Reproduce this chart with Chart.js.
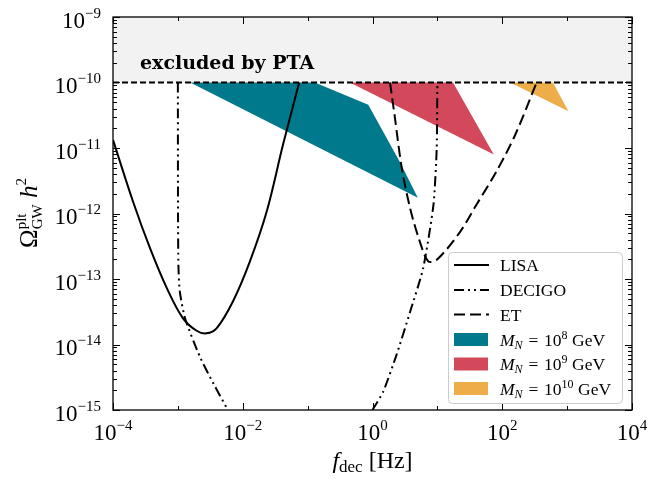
<!DOCTYPE html>
<html>
<head>
<meta charset="utf-8">
<title>GW spectrum vs. detector sensitivity</title>
<script src="https://cdn.jsdelivr.net/npm/chart.js@4.4.0/dist/chart.umd.min.js"></script>
<style>
  html, body { margin: 0; padding: 0; background: #fff; }
  #wrap { width: 668px; height: 479px; }
</style>
</head>
<body>
<div id="wrap"><canvas id="gwChart" width="668" height="479"></canvas></div>
<script>
// 数据：频率 f_dec [Hz] 与 Omega h^2
const lisaFreq = [1e-4, 2.04e-4, 3.72e-4, 6.76e-4, 1.2e-3, 1.95e-3, 2.75e-3, 3.98e-3, 7.08e-3, 1.29e-2, 2.34e-2, 4.17e-2, 7.41e-2];
const lisaOmega = [1.33e-11, 1.51e-12, 2.95e-13, 7.24e-14, 2.51e-14, 1.62e-14, 1.48e-14, 1.78e-14, 4.57e-14, 1.86e-13, 1.07e-12, 1.12e-11, 1e-10];

// DECIGO 两支，中间低于 1e-15 的部分用 null 断开
const decigoFreq = [1e-3, 1.005e-3, 1.02e-3, 1.07e-3, 1.29e-3, 2.19e-3, 3.55e-3, 5.89e-3, 0.1, 1.0, 1.46, 2.34, 3.8, 6.03, 8.7, 9.77, 10];
const decigoOmega = [1e-10, 1e-12, 1.58e-13, 6.46e-14, 2.51e-14, 6.46e-15, 2.51e-15, 1e-15, null, 1e-15, 1.9e-15, 6.9e-15, 3.16e-14, 1.45e-13, 1.35e-12, 1e-11, 1e-10];

const etFreq = [1.86, 2.19, 2.82, 3.8, 5.25, 7.24, 10, 22.4, 39.8, 81.3, 158, 339];
const etOmega = [1e-10, 3.16e-11, 5.0e-12, 1.2e-12, 3.98e-13, 1.86e-13, 2.0e-13, 5.25e-13, 1.35e-12, 4.37e-12, 1.58e-11, 1e-10];

// 三个 M_N 的信号区域（闭合多边形）
const m8Freq = [1.55e-3, 0.129, 0.86, 2.63, 5.0, 1.55e-3];
const m8Omega = [1e-10, 1e-10, 4.57e-11, 6.17e-12, 1.74e-12, 1e-10];
const m9Freq = [0.447, 17.4, 74.1, 0.447];
const m9Omega = [1e-10, 1e-10, 7.94e-12, 1e-10];
const m10Freq = [132, 603, 1047, 132];
const m10Omega = [1e-10, 1e-10, 3.63e-11, 1e-10];

// PTA 排除区
const ptaFreq = [1e-4, 1e4, 1e4, 1e-4];
const ptaOmega = [1e-10, 1e-10, 1e-9, 1e-9];
const ptaLineFreq = [1e-4, 1e4];
const ptaLineOmega = [1e-10, 1e-10];

// 坐标轴
const xMin = 1e-4, xMax = 1e4;
const yMin = 1e-15, yMax = 1e-9;
const xTickExps = [-4, -2, 0, 2, 4];
const xMinorExps = [-3, -1, 1, 3];
const yTickExps = [-15, -14, -13, -12, -11, -10, -9];

const curveLabels = ['LISA', 'DECIGO', 'ET'];
const massExps = ['8', '9', '10'];

const COLORS = { m8: '#00798c', m9: '#d1495b', m10: '#edae49', pta: '#f2f2f2' };
const DASH = { lisa: [], decigo: [10, 4, 2, 4, 2, 4], et: [11, 5], pta: [6, 3] };
const SERIF = '"Liberation Serif", "DejaVu Serif", serif';

function toPoints(xs, ys) {
    return xs.map((x, i) => ({ x: x, y: ys[i] }));
}

function fontOf(size, style) {
    return (style || '') + ' ' + size + 'px ' + SERIF;
}

// 画带上下标的文字
function drawRuns(ctx, runs, x, y, align) {
    const widths = runs.map(r => {
        ctx.font = fontOf(r.size, r.style);
        if (r.sup !== undefined) {
            return Math.max(ctx.measureText(r.sup).width, ctx.measureText(r.sub).width);
        }
        return ctx.measureText(r.t).width;
    });
    const total = widths.reduce((a, b) => a + b, 0);
    let cx = align === 'center' ? x - total / 2 : (align === 'right' ? x - total : x);
    ctx.textAlign = 'left';
    ctx.textBaseline = 'alphabetic';
    runs.forEach((r, i) => {
        ctx.font = fontOf(r.size, r.style);
        if (r.sup !== undefined) {
            ctx.fillText(r.sup, cx, y + r.supDy);
            ctx.fillText(r.sub, cx, y + r.subDy);
        } else {
            ctx.fillText(r.t, cx, y + (r.dy || 0));
        }
        cx += widths[i];
    });
}

function powRuns(e) {
    const s = e < 0 ? '\u2212' + (-e) : String(e);
    return [{ t: '10', size: 23 }, { t: s, size: 15, dy: -10 }];
}

// 边框、刻度、标签、图例
const decorPlugin = {
    id: 'decor',
    afterDraw(chart) {
        const ctx = chart.ctx;
        const area = chart.chartArea;
        const xs = chart.scales.x;
        const ys = chart.scales.y;
        ctx.save();
        ctx.fillStyle = '#000';
        ctx.strokeStyle = '#000';

        // 文字 excluded by PTA
        ctx.font = 'bold 19px "DejaVu Serif", serif';
        ctx.textAlign = 'left';
        ctx.textBaseline = 'alphabetic';
        ctx.fillText('excluded by PTA', 140, 69);

        // 刻度（朝内）
        ctx.lineWidth = 1;
        ctx.setLineDash([]);
        const tick = (x1, y1, x2, y2) => { ctx.beginPath(); ctx.moveTo(x1, y1); ctx.lineTo(x2, y2); ctx.stroke(); };
        xTickExps.forEach(e => {
            const px = Math.round(xs.getPixelForValue(Math.pow(10, e))) + 0.5;
            tick(px, area.bottom, px, area.bottom - 7);
            tick(px, area.top, px, area.top + 7);
        });
        xMinorExps.forEach(e => {
            const px = Math.round(xs.getPixelForValue(Math.pow(10, e))) + 0.5;
            tick(px, area.bottom, px, area.bottom - 4);
            tick(px, area.top, px, area.top + 4);
        });
        yTickExps.forEach(e => {
            const py = Math.round(ys.getPixelForValue(Math.pow(10, e))) + 0.5;
            tick(area.left, py, area.left + 7, py);
            tick(area.right, py, area.right - 7, py);
            if (e < -9) {
                for (let m = 2; m <= 9; m++) {
                    const pm = Math.round(ys.getPixelForValue(m * Math.pow(10, e))) + 0.5;
                    tick(area.left, pm, area.left + 4, pm);
                    tick(area.right, pm, area.right - 4, pm);
                }
            }
        });

        // 边框
        ctx.lineWidth = 1.3;
        ctx.strokeRect(area.left, area.top, area.right - area.left, area.bottom - area.top);

        // 刻度标签
        xTickExps.forEach(e => {
            drawRuns(ctx, powRuns(e), xs.getPixelForValue(Math.pow(10, e)), area.bottom + 30, 'center');
        });
        yTickExps.forEach(e => {
            drawRuns(ctx, powRuns(e), area.left - 12, ys.getPixelForValue(Math.pow(10, e)) + 10.5, 'right');
        });

        // 坐标轴标题
        drawRuns(ctx, [
            { t: 'f', size: 24, style: 'italic' },
            { t: 'dec', size: 17, dy: 4 },
            { t: ' [Hz]', size: 24 }
        ], (area.left + area.right) / 2, 468, 'center');

        ctx.save();
        ctx.translate(37, 213);
        ctx.rotate(-Math.PI / 2);
        drawRuns(ctx, [
            { t: '\u03A9', size: 25 },
            { sup: 'plt', sub: 'GW', size: 15, supDy: -11, subDy: 5 },
            { t: ' ', size: 25 },
            { t: 'h', size: 25, style: 'italic' },
            { t: '2', size: 15, dy: -11 }
        ], 0, 0, 'center');
        ctx.restore();

        // 图例
        drawLegend(ctx);
        ctx.restore();
    }
};

function drawLegend(ctx) {
    const bx = 448.5, by = 252.5, bw = 174, bh = 151, r = 4;
    ctx.save();
    ctx.fillStyle = 'rgba(255,255,255,0.8)';
    ctx.strokeStyle = '#cccccc';
    ctx.lineWidth = 1;
    ctx.beginPath();
    ctx.roundRect(bx, by, bw, bh, r);
    ctx.fill();
    ctx.stroke();

    const rowY = [265, 290, 314.5, 339.5, 364, 388.5];
    const dashes = [DASH.lisa, DASH.decigo, DASH.et];
    const textX = 500;

    curveLabels.forEach((lab, i) => {
        ctx.strokeStyle = '#000';
        ctx.lineWidth = 2;
        ctx.setLineDash(dashes[i]);
        ctx.beginPath();
        ctx.moveTo(454, rowY[i]);
        ctx.lineTo(489, rowY[i]);
        ctx.stroke();
        ctx.setLineDash([]);
        ctx.fillStyle = '#000';
        drawRuns(ctx, [{ t: lab, size: 17.5 }], textX, rowY[i] + 6, 'left');
    });

    const fills = [COLORS.m8, COLORS.m9, COLORS.m10];
    massExps.forEach((ex, i) => {
        const cy = rowY[i + 3];
        ctx.fillStyle = fills[i];
        ctx.fillRect(454, cy - 6.5, 34, 13);
        ctx.fillStyle = '#000';
        drawRuns(ctx, [
            { t: 'M', size: 17.5, style: 'italic' },
            { t: 'N', size: 12, style: 'italic', dy: 3 },
            { t: '\u2004=\u200410', size: 17.5 },
            { t: ex, size: 12, dy: -7 },
            { t: ' GeV', size: 17.5 }
        ], textX, cy + 6, 'left');
    });
    ctx.restore();
}

// 初始化图表
function initChart() {
    const ctx = document.getElementById('gwChart').getContext('2d');
    const lineDs = (label, xs, ys, dash, tension, order) => ({
        label: label,
        data: toPoints(xs, ys),
        showLine: true,
        borderColor: '#000',
        borderWidth: 2,
        borderDash: dash,
        pointRadius: 0,
        tension: tension,
        fill: false,
        spanGaps: false,
        order: order
    });
    const areaDs = (label, xs, ys, color, order) => ({
        label: label,
        data: toPoints(xs, ys),
        showLine: true,
        borderWidth: 0,
        borderColor: color,
        backgroundColor: color,
        pointRadius: 0,
        tension: 0,
        fill: 'shape',
        order: order
    });

    new Chart(ctx, {
        type: 'scatter',
        data: {
            datasets: [
                lineDs('PTA', ptaLineFreq, ptaLineOmega, DASH.pta, 0, 0),
                lineDs('LISA', lisaFreq, lisaOmega, DASH.lisa, 0.35, 1),
                lineDs('DECIGO', decigoFreq, decigoOmega, DASH.decigo, 0.2, 1),
                lineDs('ET', etFreq, etOmega, DASH.et, 0.3, 1),
                areaDs('M_N = 10^8 GeV', m8Freq, m8Omega, COLORS.m8, 5),
                areaDs('M_N = 10^9 GeV', m9Freq, m9Omega, COLORS.m9, 5),
                areaDs('M_N = 10^10 GeV', m10Freq, m10Omega, COLORS.m10, 5),
                areaDs('excluded by PTA', ptaFreq, ptaOmega, COLORS.pta, 10)
            ]
        },
        options: {
            responsive: false,
            animation: false,
            layout: { padding: { left: 113, right: 36, top: 17, bottom: 69 } },
            scales: {
                x: { type: 'logarithmic', min: xMin, max: xMax, display: false },
                y: { type: 'logarithmic', min: yMin, max: yMax, display: false }
            },
            plugins: {
                legend: { display: false },
                tooltip: { enabled: false }
            }
        },
        plugins: [decorPlugin]
    });
}

document.addEventListener('DOMContentLoaded', initChart);
</script>
</body>
</html>
